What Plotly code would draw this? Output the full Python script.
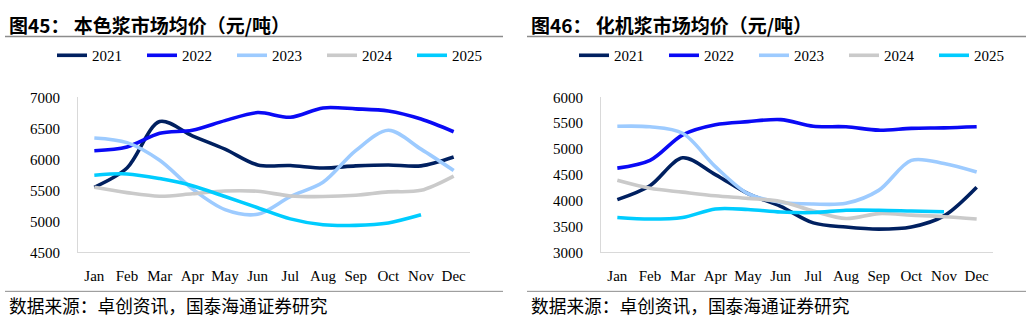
import plotly.graph_objects as go

months = ["Jan", "Feb", "Mar", "Apr", "May", "Jun", "Jul", "Aug", "Sep", "Oct", "Nov", "Dec"]
years = ["2021", "2022", "2023", "2024", "2025"]

# 本色浆市场均价 (元/吨)
unbleached_2021 = [5550, 5860, 6610, 6380, 6165, 5910, 5900, 5860, 5895, 5910, 5895, 6037]
unbleached_2022 = [6140, 6200, 6420, 6470, 6625, 6755, 6680, 6830, 6815, 6780, 6650, 6445]
unbleached_2023 = [6345, 6270, 5985, 5525, 5190, 5115, 5400, 5630, 6140, 6470, 6165, 5820]
unbleached_2024 = [5550, 5463, 5405, 5445, 5490, 5485, 5410, 5400, 5420, 5475, 5500, 5730]
unbleached_2025 = [5745, 5765, 5690, 5575, 5400, 5220, 5040, 4945, 4935, 4975, 5105]

# 化机浆市场均价 (元/吨)
ctmp_2021 = [4020, 4290, 4830, 4505, 4135, 3890, 3570, 3490, 3450, 3490, 3705, 4260]
ctmp_2022 = [4630, 4780, 5275, 5470, 5530, 5570, 5440, 5430, 5365, 5400, 5410, 5430]
ctmp_2023 = [5440, 5430, 5305, 4660, 4135, 3970, 3935, 3950, 4200, 4780, 4720, 4555]
ctmp_2024 = [4395, 4240, 4165, 4095, 4045, 3985, 3800, 3655, 3750, 3720, 3690, 3645]
ctmp_2025 = [3675, 3645, 3675, 3840, 3830, 3780, 3770, 3815, 3815, 3800, 3785]

left_series = [unbleached_2021, unbleached_2022, unbleached_2023, unbleached_2024, unbleached_2025]
right_series = [ctmp_2021, ctmp_2022, ctmp_2023, ctmp_2024, ctmp_2025]

left_ticks = [4500, 5000, 5500, 6000, 6500, 7000]
right_ticks = [3000, 3500, 4000, 4500, 5000, 5500, 6000]

titles = ["图45： 本色浆市场均价（元/吨）", "图46： 化机浆市场均价（元/吨）"]
source_text = "数据来源：卓创资讯，国泰海通证券研究"

colors = ["#002060", "#0A0AF5", "#9DCBFF", "#CACACA", "#00CCFF"]

W, H = 1032, 325
serif = "Liberation Serif"
cjk = "Noto Sans CJK SC"

fig = go.Figure()

for i, (yr, vals) in enumerate(zip(years, left_series)):
    fig.add_trace(go.Scatter(
        x=months[:len(vals)], y=vals, name=yr, mode="lines",
        line=dict(color=colors[i], width=3.6, shape="spline", smoothing=0.9),
        xaxis="x", yaxis="y", legend="legend",
    ))
for i, (yr, vals) in enumerate(zip(years, right_series)):
    fig.add_trace(go.Scatter(
        x=months[:len(vals)], y=vals, name=yr, mode="lines",
        line=dict(color=colors[i], width=3.6, shape="spline", smoothing=0.9),
        xaxis="x2", yaxis="y2", legend="legend2",
    ))

def px_x(p):
    return p / W

def px_y(p):
    return 1 - p / H

axis_common = dict(
    showgrid=False, zeroline=False, showline=True, linecolor="#D9D9D9", linewidth=1,
    ticks="", tickfont=dict(family=serif, size=15, color="#000000"),
)

y_dom = [px_y(257), px_y(94)]

fig.update_layout(
    width=W, height=H,
    margin=dict(l=0, r=0, t=0, b=0),
    paper_bgcolor="white", plot_bgcolor="white",
    font=dict(family=serif),
    xaxis=dict(domain=[px_x(78), px_x(470)], type="category", categoryorder="array",
               categoryarray=months, range=[-0.5, 11.5], anchor="y", ticklabelstandoff=10,
               **axis_common),
    yaxis=dict(domain=y_dom, range=[4500, 7000], tickvals=left_ticks, anchor="x",
               ticklabelstandoff=14, **axis_common),
    xaxis2=dict(domain=[px_x(601), px_x(993)], type="category", categoryorder="array",
                categoryarray=months, range=[-0.5, 11.5], anchor="y2", ticklabelstandoff=10,
                **axis_common),
    yaxis2=dict(domain=y_dom, range=[3000, 6000], tickvals=right_ticks, anchor="x2",
                ticklabelstandoff=14, **axis_common),
    legend=dict(orientation="h", x=px_x(52), y=px_y(50), xanchor="left", yanchor="middle",
                font=dict(family=serif, size=15, color="#000000"),
                entrywidth=45, entrywidthmode="pixels", bgcolor="rgba(0,0,0,0)"),
    legend2=dict(orientation="h", x=px_x(574), y=px_y(50), xanchor="left", yanchor="middle",
                 font=dict(family=serif, size=15, color="#000000"),
                 entrywidth=45, entrywidthmode="pixels", bgcolor="rgba(0,0,0,0)"),
    showlegend=True,
)

for text, x0 in zip(titles, [7, 529]):
    fig.add_annotation(text="<b>" + text + "</b>", x=px_x(x0), y=px_y(17), xref="paper", yref="paper",
                       xanchor="left", yanchor="middle", showarrow=False,
                       font=dict(family=cjk, size=19, color="#000000"))

for x0, x1 in [(5, 503), (527, 1026)]:
    fig.add_shape(type="line", x0=px_x(x0), x1=px_x(x1), y0=px_y(30), y1=px_y(30),
                  xref="paper", yref="paper", line=dict(color="#8C8C8C", width=1.5))
    fig.add_shape(type="line", x0=px_x(x0), x1=px_x(x1), y0=px_y(298), y1=px_y(298),
                  xref="paper", yref="paper", line=dict(color="#8C8C8C", width=1))

for x0 in [7, 529]:
    fig.add_annotation(text=source_text, x=px_x(x0), y=px_y(312),
                       xref="paper", yref="paper", xanchor="left", yanchor="middle",
                       showarrow=False, font=dict(family=cjk, size=17.7, color="#000000"))

fig.write_html("out.html")
